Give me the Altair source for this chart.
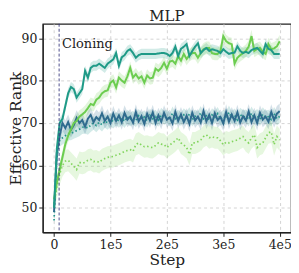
import altair as alt
import pandas as pd

steps = [i * 5000 for i in range(81)]

teal_solid = [50, 64, 70, 71, 74, 77, 78.5, 78, 76, 77, 78, 82.3, 80.7, 83, 83.5, 83.5, 84, 83.5, 83, 84,
              84.5, 85, 86.5, 83.5, 85.5, 86, 87, 87.4, 86.5, 85.4, 86, 86.3, 86.3, 86.3, 86.3, 86.3, 86.3, 86.4, 86.5, 86.5,
              86.3, 85.8, 86.5, 88, 85.8, 87.5, 88, 88.6, 85.8, 87, 88, 88.8, 86.5, 87.2, 87.7, 87, 87.4, 87.2, 87, 86.5,
              87.4, 86.8, 86.3, 86.5, 86.6, 88.1, 87, 86.5, 86.8, 86.5, 87.2, 87.5, 87.7, 87, 86.3, 88.6, 87.5, 87.2, 86.3, 86.3,
              86.3]
green_solid = [52, 56, 59, 62, 65, 67, 68.5, 70, 70.5, 71.5, 72, 72.6, 73.5, 74.5, 74.2, 75.5, 76, 77, 77.5, 77.7,
               79.5, 80, 78.4, 80.7, 80, 79.5, 81, 83, 80.7, 81.5, 80.5, 81, 79.5, 81.2, 80.5, 80.7, 82.8, 82.3, 83, 84.2,
               82.8, 84.5, 84.7, 84, 85.8, 84.7, 86.3, 85.1, 86, 86.5, 86.5, 85.4, 86.5, 87.4, 87.7, 87.7, 86.5, 86.3, 86.3, 87,
               90.5, 89.3, 88.8, 88.6, 84, 85.4, 86, 86.5, 87, 88, 90.5, 87, 87.5, 87.7, 86.8, 86.3, 88.6, 87.4, 87.6, 88.1,
               89.3]
blue_solid = [49, 63, 67, 70, 68.8, 70.2, 68.4, 69.5, 71.2, 70, 70.7, 69.1, 71, 71.9, 70.2, 71.4, 70.7, 72.3, 70.5, 71.5,
              70, 72.2, 70.5, 71.8, 70.2, 72.4, 70.8, 71.5, 70.1, 72.6, 70.4, 71.6, 69.8, 72.2, 70.6, 72.5, 70, 71.8, 70.3, 72.4,
              70.8, 71.3, 69.9, 72.6, 70.5, 72, 70.2, 71.7, 69.8, 72.4, 70.6, 71.5, 70.1, 72.8, 70.4, 71.9, 70, 72.3, 70.7, 71.4,
              69.9, 72.6, 70.3, 72, 70.5, 72.5, 70.1, 71.6, 70.6, 72.7, 70.2, 71.8, 70, 72.4, 70.8, 71.5, 70.3, 72.6, 70.7, 72.2,
              72.8]
teal_dotted = [47, 62, 66, 66.5, 67, 67.5, 67.5, 67.9, 68.2, 68.5, 69, 69.1, 68.8, 69.5, 70, 69.4, 70.2, 69.6, 70.5, 70,
               70.8, 70.3, 71, 70.5, 71.2, 70.4, 71.5, 70.8, 71.3, 70.6, 71.7, 70.9, 71.4, 70.5, 71.8, 71, 71.5, 70.7, 72, 71.2,
               71.6, 70.8, 72.3, 71, 71.5, 70.9, 71.9, 71.2, 72.1, 70.8, 71.6, 71.1, 72.4, 71, 71.7, 70.6, 71.9, 71.3, 72.2, 70.9,
               71.5, 71, 72.5, 71.2, 71.8, 70.7, 72, 71.4, 71.6, 70.8, 72.3, 71.1, 71.7, 70.9, 72.1, 71.3, 71.5, 70.8, 72.2, 71,
               71.6]
green_dotted = [51, 55, 58, 60, 61, 61.2, 60.5, 59.8, 59, 60.7, 60.5, 60.7, 61.2, 61.4, 60.9, 61, 60.7, 61.3, 61.6, 61.9,
                62, 62.1, 62.4, 62.6, 62.9, 63.3, 63.5, 63.7, 63.3, 64.9, 65.3, 64.8, 64.4, 64.5, 64.3, 64.2, 64.7, 65.3, 65, 64.9,
                64.2, 64.8, 65.3, 65.8, 66.5, 65.3, 64.8, 64.2, 62.6, 65.3, 65.3, 65.6, 66, 66.8, 67.2, 66.5, 66.8, 66.5, 66.5, 65.8,
                64.9, 65.5, 65.3, 65.6, 65.8, 66, 66.4, 66.8, 65.8, 65.3, 66.5, 67.2, 64.2, 65, 65.3, 66.5, 67.7, 67.9, 64.9, 66.8,
                66]

series_names = ["teal_solid", "green_solid", "blue_solid", "teal_dotted", "green_dotted"]
series_values = [teal_solid, green_solid, blue_solid, teal_dotted, green_dotted]
band_spread = [1.2, 1.5, 1.8, 1.6, 2.6]
colors = ["#1f9a87", "#6ccd50", "#2f6b8e", "#22958a", "#82d55e"]
dashes = [[1, 0], [1, 0], [1, 0], [1.5, 2.5], [1.5, 2.5]]
widths = [2.0, 2.0, 2.0, 1.7, 1.7]

cloning_step = 9000
x_ticks = [0, 100000, 200000, 300000, 400000]
y_ticks = [50, 60, 70, 80, 90]

font = "DejaVu Serif"

x_scale = alt.Scale(domain=[-20000, 420000], nice=False, zero=False)
y_scale = alt.Scale(domain=[44.2, 93.4], nice=False, zero=False)

x_axis = alt.Axis(values=x_ticks, title="Step",
                  labelExpr="datum.value == 0 ? '0' : (datum.value / 100000) + 'e5'",
                  grid=True, gridDash=[3, 3], gridColor="#d4d4d4", tickSize=4, labelPadding=2,
                  titlePadding=2)
y_axis = alt.Axis(values=y_ticks, title="Effective Rank", grid=True, gridDash=[3, 3],
                  gridColor="#d4d4d4", tickSize=4, labelPadding=2, titlePadding=1,
                  titleBaseline="alphabetic")

bands = []
lines = []
for name, vals, spread, col, dash, w in zip(series_names, series_values, band_spread, colors, dashes, widths):
    df = pd.DataFrame({"step": steps, "value": vals})
    df["lo"] = df["value"] - spread
    df["hi"] = df["value"] + spread
    base = alt.Chart(df)
    bands.append(base.mark_area(color=col, opacity=0.2).encode(
        x=alt.X("step:Q", scale=x_scale, axis=x_axis),
        y=alt.Y("lo:Q", scale=y_scale, axis=y_axis),
        y2="hi:Q"))
    lines.append(base.mark_line(color=col, strokeDash=dash, strokeWidth=w).encode(
        x=alt.X("step:Q", scale=x_scale, axis=x_axis),
        y=alt.Y("value:Q", scale=y_scale, axis=y_axis)))

rule = alt.Chart(pd.DataFrame({"step": [cloning_step]})).mark_rule(
    color="#3a3a80", strokeDash=[3, 2], strokeWidth=0.9).encode(
    x=alt.X("step:Q", scale=x_scale, axis=x_axis))

label = alt.Chart(pd.DataFrame({"step": [cloning_step], "y": [88.6], "t": ["Cloning"]})).mark_text(
    align="left", baseline="middle", dx=3, font=font, fontSize=13, color="#222").encode(
    x=alt.X("step:Q", scale=x_scale, axis=x_axis),
    y=alt.Y("y:Q", scale=y_scale, axis=y_axis),
    text="t:N")

order = [bands[4], bands[3], bands[2], bands[0], bands[1],
         lines[4], lines[3], lines[2], lines[1], lines[0], rule, label]

chart = alt.layer(*order).properties(
    width=250, height=210,
    title=alt.TitleParams("MLP", font=font, fontSize=15, fontWeight="normal", offset=0, dy=1,
                          color="#222"),
    padding={"left": 35, "top": 15, "right": 0, "bottom": 36},
    autosize=alt.AutoSizeParams(type="none"),
).configure_axis(
    labelFont=font, titleFont=font, labelFontSize=12.5, titleFontSize=15.5, titleFontWeight="normal",
    labelColor="#222", titleColor="#222", domainColor="#222", tickColor="#222", domainWidth=1.2,
).configure_view(stroke="#222", strokeWidth=1.2)

chart.save("out.html", embed_options={"renderer": "svg", "actions": False})
